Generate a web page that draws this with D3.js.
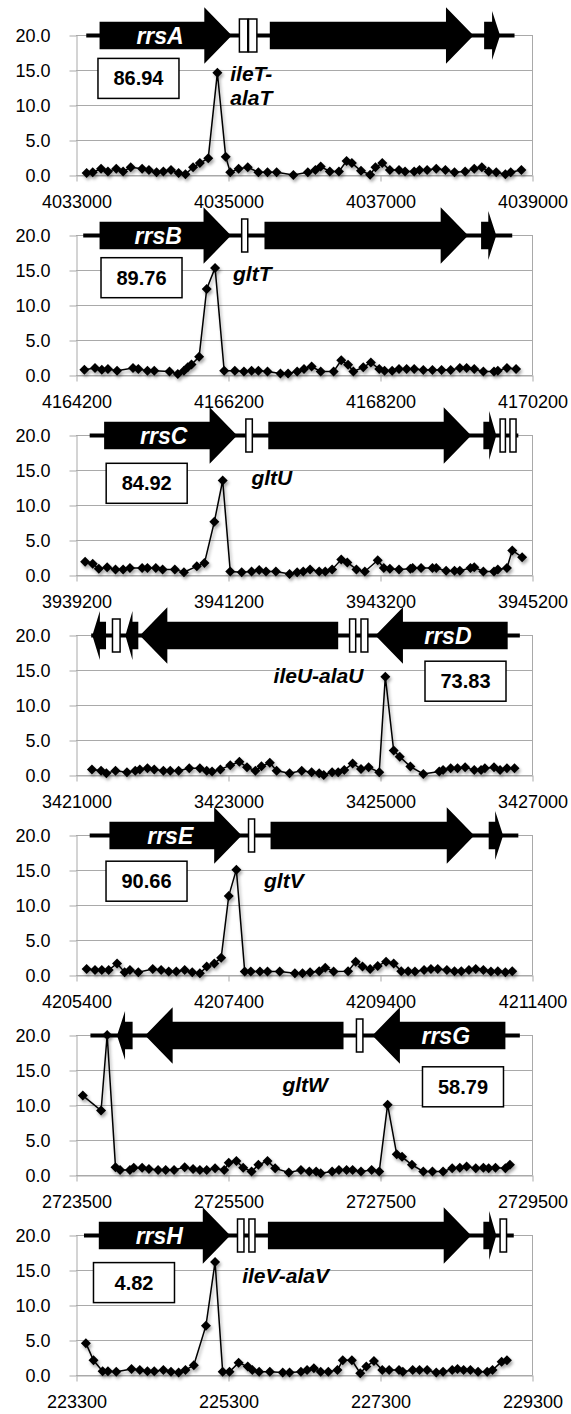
<!DOCTYPE html>
<html>
<head>
<meta charset="utf-8">
<script src="https://cdn.jsdelivr.net/npm/d3@7/dist/d3.min.js"></script>
<style>
  body { margin: 0; background: #fff; }
  text { font-family: "Liberation Sans", Arial, sans-serif; }
</style>
</head>
<body>
<script>
// windows (bp); every panel covers 6000 bp from its start
const windowStart = [4033000, 4164200, 3939200, 3421000, 4205400, 2723500, 223300];
const windowSpan = 6000;
const xTickStep = 2000;
const yTicks = [0, 5, 10, 15, 20];

// positions are bp from the window start
const rrnA_pos = [140,220,330,420,530,620,720,870,960,1060,1150,1250,1350,1440,1540,1630,1740,1860,1970,2030,2140,2260,2400,2520,2640,2860,3050,3150,3220,3340,3460,3560,3630,3750,3870,3940,4030,4130,4250,4330,4450,4520,4620,4740,4860,4980,5120,5240,5340,5430,5530,5650,5720,5860];
const rrnA_val = [0.3,0.4,0.9,0.5,0.9,0.5,1.1,0.9,0.7,0.4,0.5,0.7,0.3,0.1,1.1,1.7,2.4,14.6,2.6,0.4,0.9,1.1,0.4,0.4,0.4,0.0,0.4,0.7,1.2,0.5,0.5,2.0,1.7,0.6,0.05,1.1,1.7,0.7,0.7,0.5,0.5,0.7,0.7,0.9,0.7,0.4,0.5,0.9,1.1,0.5,0.4,0.1,0.4,0.7];

const rrnB_pos = [110,250,340,420,540,750,820,940,1030,1230,1340,1420,1470,1520,1620,1720,1830,1950,2090,2210,2310,2400,2520,2690,2790,2910,3000,3100,3220,3390,3490,3580,3650,3780,3880,3990,4060,4160,4250,4350,4450,4570,4690,4810,4930,5050,5140,5240,5360,5500,5550,5670,5790];
const rrnB_val = [0.75,1.0,0.75,0.85,0.6,1.0,0.85,0.6,0.6,0.5,0.15,0.6,1.1,1.5,2.6,12.3,15.3,0.6,0.6,0.5,0.6,0.6,0.5,0.2,0.2,0.5,0.85,1.2,0.5,0.5,2.1,1.45,0.5,1.1,1.8,0.85,0.6,0.6,0.85,0.85,0.85,0.7,0.7,0.7,0.7,1.0,1.0,0.85,0.5,0.5,0.6,1.0,0.85];

const rrnC_pos = [120,220,300,410,520,620,710,870,940,1050,1140,1300,1420,1590,1690,1820,1930,2030,2180,2310,2410,2500,2630,2810,2910,2990,3080,3200,3280,3370,3490,3570,3690,3800,3970,4050,4130,4250,4400,4430,4540,4690,4740,4870,4980,5050,5190,5240,5360,5500,5550,5670,5740,5870];
const rrnC_val = [1.9,1.6,0.9,1.1,0.8,0.8,1.0,1.0,1.0,1.0,0.8,0.8,0.4,1.25,1.7,7.6,13.5,0.5,0.4,0.5,0.7,0.5,0.5,0.15,0.4,0.5,0.8,0.5,0.5,0.8,2.2,1.8,0.8,0.5,2.1,1.0,0.9,0.8,0.9,1.0,1.0,1.0,1.0,0.6,0.6,0.6,1.0,1.1,0.5,0.5,0.8,1.0,3.5,2.55];

const rrnD_pos = [210,330,400,520,670,780,840,940,1030,1150,1240,1350,1490,1630,1720,1790,1900,2030,2150,2250,2360,2440,2550,2640,2810,2970,3100,3200,3260,3370,3450,3530,3640,3750,3850,3990,4070,4180,4260,4400,4570,4780,4830,4930,5020,5120,5240,5330,5380,5500,5580,5670,5770];
const rrnD_val = [0.8,0.6,0.25,0.6,0.4,0.6,0.8,0.95,0.8,0.6,0.6,0.6,0.95,0.95,0.6,0.5,0.8,1.4,1.9,1.1,0.6,1.25,1.75,0.6,0.25,0.6,0.4,0.25,0.0,0.4,0.4,0.7,1.65,0.85,1.1,0.4,14.05,3.5,2.6,1.2,0.15,0.5,0.7,0.95,0.95,1.1,0.7,0.7,0.95,1.1,0.7,0.95,0.95];

const rrnE_pos = [140,250,340,430,540,640,710,820,1010,1120,1220,1320,1430,1530,1630,1720,1820,1910,2010,2110,2220,2300,2420,2520,2680,2880,2980,3080,3200,3280,3390,3580,3680,3770,3870,3970,4080,4180,4280,4370,4460,4580,4670,4760,4880,4980,5070,5170,5260,5360,5460,5550,5650,5740];
const rrnE_val = [0.85,0.7,0.7,0.7,1.65,0.4,0.7,0.4,0.85,0.7,0.5,0.5,0.7,0.4,0.25,1.2,1.65,2.45,11.3,15.05,0.5,0.5,0.5,0.5,0.5,0.25,0.25,0.4,0.55,1.05,0.5,0.55,1.9,1.2,0.85,1.3,1.9,1.65,0.55,0.55,0.5,0.7,0.85,0.85,0.7,0.55,0.55,0.7,0.85,0.7,0.5,0.55,0.4,0.55];

const rrnG_pos = [90,330,410,520,580,710,760,870,960,1080,1180,1290,1430,1540,1630,1720,1830,1950,2010,2110,2200,2310,2400,2520,2620,2800,2960,3070,3160,3220,3370,3460,3560,3640,3750,3890,3990,4100,4220,4290,4420,4570,4690,4830,4950,5050,5140,5260,5360,5430,5520,5650,5710];
const rrnG_val = [11.35,9.2,20.0,1.1,0.7,0.7,1.05,1.05,0.85,0.7,0.7,0.7,1.1,0.85,0.7,0.7,0.95,0.7,1.75,2.0,1.05,0.5,1.45,2.0,0.95,0.35,0.7,0.5,0.5,0.25,0.5,0.7,0.7,0.7,0.5,0.7,0.5,10.05,2.95,2.6,1.45,0.5,0.5,0.5,0.95,1.05,1.2,0.95,1.05,0.95,1.05,0.95,1.45];

const rrnH_pos = [130,230,350,420,530,730,840,940,1030,1150,1250,1350,1440,1550,1710,1830,1930,2020,2140,2260,2320,2410,2550,2720,2810,2960,3040,3130,3220,3320,3440,3510,3630,3740,3820,3920,4030,4120,4250,4300,4430,4520,4620,4740,4830,4950,5020,5100,5190,5290,5410,5480,5600,5670];
const rrnH_val = [4.55,2.1,0.55,0.55,0.45,0.85,0.7,0.55,0.55,0.7,0.45,0.35,0.7,1.4,7.05,16.15,0.45,0.45,1.75,1.2,0.7,0.45,0.45,0.35,0.35,0.45,0.7,0.95,0.45,0.45,0.7,2.1,2.1,0.25,1.2,2.0,0.7,0.7,0.7,0.45,0.7,0.7,0.7,0.35,0.45,0.7,0.85,0.7,0.7,0.45,0.45,0.7,1.9,2.1];

// operon maps: [kind, from, to, strand] in bp from window start
const rrnA_genes = [["line",135,5770],["big",310,2050,1],["trna",2150,2260],["trna",2270,2380],["big",2550,5230,1],["small",5370,5580,1]];
const rrnB_genes = [["line",95,5740],["big",310,2040,1],["trna",2180,2260],["big",2480,5160,1],["small",5330,5530,1]];
const rrnC_genes = [["line",180,5820],["big",370,2120,1],["trna",2235,2320],["big",2530,5200,1],["small",5360,5530,1],["trna",5580,5650],["trna",5710,5790]];
const rrnD_genes = [["line",200,5840],["small",215,395,-1],["trna",480,580],["small",650,820,-1],["big",840,3450,-1],["trna",3600,3680],["trna",3750,3840],["big",3940,5680,-1]];
const rrnE_genes = [["line",180,5820],["big",440,2180,1],["trna",2270,2350],["big",2560,5240,1],["small",5430,5620,1]];
const rrnG_genes = [["line",190,5840],["small",540,745,-1],["big",910,3520,-1],["trna",3690,3775],["big",3900,5650,-1]];
const rrnH_genes = [["line",105,5760],["big",300,2030,1],["trna",2125,2210],["trna",2275,2355],["big",2525,5200,1],["small",5360,5530,1],["trna",5580,5665]];

const rrsNames = ["rrsA", "rrsB", "rrsC", "rrsD", "rrsE", "rrsG", "rrsH"];
const rrsLabelPos = [1106, 1082, 1154, 4893, 1240, 4865, 1096];
const trnaNames = [["ileT-", "alaT"], ["gltT"], ["gltU"], ["ileU-alaU"], ["gltV"], ["gltW"], ["ileV-alaV"]];
const trnaLabelPos = [[2030, 13.5], [2066, 13.4], [2308, 12.9], [2600, 13.1], [2474, 12.4], [2716, 11.9], [2187, 13.1]];
const boxValues = ["86.94", "89.76", "84.92", "73.83", "90.66", "58.79", "4.82"];
const boxPos = [[822, 13.8], [862, 13.9], [930, 13.1], [5125, 13.4], [928, 13.4], [5092, 12.6], [763, 13.2]];

const positions = [rrnA_pos, rrnB_pos, rrnC_pos, rrnD_pos, rrnE_pos, rrnG_pos, rrnH_pos];
const values = [rrnA_val, rrnB_val, rrnC_val, rrnD_val, rrnE_val, rrnG_val, rrnH_val];
const genes = [rrnA_genes, rrnB_genes, rrnC_genes, rrnD_genes, rrnE_genes, rrnG_genes, rrnH_genes];

// layout
const width = 571;
const height = 1414;
const plotLeft = 76;
const plotRight = 532;
const plotHeight = 140;
const firstZero = 175;
const panelStep = 200;
const gridColor = "#a9a9a9";

let svg = d3.select("body")
    .append("svg")
    .attr("width", width)
    .attr("height", height);

svg.append("rect").attr("width", width).attr("height", height).attr("fill", "#fff");

// soft shadow under the series, like the original
let filter = svg.append("defs").append("filter")
    .attr("id", "shadow")
    .attr("x", "-20%").attr("y", "-20%")
    .attr("width", "140%").attr("height", "140%");
filter.append("feDropShadow")
    .attr("dx", 1.5).attr("dy", 2.5)
    .attr("stdDeviation", 1.5)
    .attr("flood-color", "#000")
    .attr("flood-opacity", 0.35);

function diamond(r) {
    return "M0," + (-r) + "L" + r + ",0L0," + r + "L" + (-r) + ",0Z";
}

windowStart.forEach(function(start, i) {
    let zeroY = firstZero + i * panelStep;

    let x = d3.scaleLinear()
        .domain([start, start + windowSpan])
        .range([plotLeft, plotRight]);
    let y = d3.scaleLinear()
        .domain([0, 20])
        .range([zeroY, zeroY - plotHeight]);

    let g = svg.append("g");

    // horizontal gridlines
    g.selectAll(".grid")
        .data(yTicks)
        .enter()
        .append("line")
        .attr("x1", plotLeft)
        .attr("x2", plotRight)
        .attr("y1", function(d) { return y(d) + 0.5; })
        .attr("y2", function(d) { return y(d) + 0.5; })
        .attr("stroke", gridColor)
        .attr("stroke-width", 1);

    // right border of the plot area
    g.append("line")
        .attr("x1", plotRight + 0.5).attr("x2", plotRight + 0.5)
        .attr("y1", y(20)).attr("y2", y(0) + 0.5)
        .attr("stroke", gridColor);

    // y axis
    let yAxis = g.append("g")
        .attr("transform", "translate(" + (plotLeft + 0.5) + ",0.5)")
        .call(d3.axisLeft(y).tickValues(yTicks).tickSize(7).tickSizeOuter(0)
            .tickPadding(19).tickFormat(d3.format(".1f")));

    // x axis
    let xTicks = d3.range(start, start + windowSpan + 1, xTickStep);
    let xAxis = g.append("g")
        .attr("transform", "translate(0.5," + (zeroY + 0.5) + ")")
        .call(d3.axisBottom(x).tickValues(xTicks).tickSize(6).tickSizeOuter(0)
            .tickPadding(9).tickFormat(d3.format("d")));

    [yAxis, xAxis].forEach(function(ax) {
        ax.select(".domain").attr("stroke", gridColor);
        ax.selectAll(".tick line").attr("stroke", gridColor);
        ax.selectAll("text")
            .attr("fill", "#000")
            .style("font-size", "18px")
            .style("font-family", "'Liberation Sans', Arial, sans-serif");
    });
    xAxis.selectAll("text").attr("dy", "0.95em");

    // operon map, centred on the 20.0 line
    let c = y(20) + 0.5;
    let track = g.append("g");
    genes[i].forEach(function(gene) {
        let kind = gene[0];
        let x0 = x(start + gene[1]);
        let x1 = x(start + gene[2]);
        if (kind === "line") {
            track.append("rect")
                .attr("x", x0).attr("y", c - 2)
                .attr("width", x1 - x0).attr("height", 4)
                .attr("fill", "#000");
        } else if (kind === "trna") {
            track.append("rect")
                .attr("x", x0).attr("y", c - 16.5)
                .attr("width", x1 - x0).attr("height", 33)
                .attr("fill", "#fff")
                .attr("stroke", "#000")
                .attr("stroke-width", 1.5);
        } else {
            let big = kind === "big";
            let head = big ? 27.5 : Math.min(8, (x1 - x0) * 0.55);
            let shaft = 13.8;
            let wing = big ? 28.3 : 24.5;
            let tip, base, tail;
            if (gene[3] > 0) {
                tip = x1; base = x1 - head; tail = x0;
            } else {
                tip = x0; base = x0 + head; tail = x1;
            }
            let pts = [
                [tail, c - shaft], [base, c - shaft], [base, c - wing], [tip, c],
                [base, c + wing], [base, c + shaft], [tail, c + shaft]
            ];
            track.append("path")
                .attr("d", d3.line()(pts) + "Z")
                .attr("fill", "#000");
        }
    });

    // rrs gene name inside the 16S arrow
    track.append("text")
        .attr("x", x(start + rrsLabelPos[i]))
        .attr("y", c + 8)
        .attr("text-anchor", "middle")
        .attr("fill", "#fff")
        .style("font-size", "23px")
        .style("font-weight", "bold")
        .style("font-style", "italic")
        .text(rrsNames[i]);

    // data series
    let pts = positions[i].map(function(p, k) {
        return [start + p, values[i][k]];
    });
    let series = g.append("g").attr("filter", "url(#shadow)");
    series.append("path")
        .datum(pts)
        .attr("d", d3.line()
            .x(function(d) { return x(d[0]); })
            .y(function(d) { return y(d[1]); }))
        .attr("fill", "none")
        .attr("stroke", "#000")
        .attr("stroke-width", 1.5);
    series.selectAll(".pt")
        .data(pts)
        .enter()
        .append("path")
        .attr("d", diamond(5))
        .attr("transform", function(d) {
            return "translate(" + x(d[0]) + "," + y(d[1]) + ")";
        })
        .attr("fill", "#000");

    // tRNA gene label, one text per line
    trnaNames[i].forEach(function(s, k) {
        g.append("text")
            .attr("x", x(start + trnaLabelPos[i][0]))
            .attr("y", y(trnaLabelPos[i][1]) + k * 24)
            .attr("fill", "#000")
            .style("font-size", "21px")
            .style("font-weight", "bold")
            .style("font-style", "italic")
            .text(s);
    });

    // value box
    let bx = x(start + boxPos[i][0]);
    let by = y(boxPos[i][1]);
    g.append("rect")
        .attr("x", bx - 40.5).attr("y", by - 20)
        .attr("width", 81).attr("height", 40)
        .attr("fill", "#fff")
        .attr("stroke", "#000")
        .attr("stroke-width", 1.5);
    g.append("text")
        .attr("x", bx).attr("y", by + 7)
        .attr("text-anchor", "middle")
        .attr("fill", "#000")
        .style("font-size", "20px")
        .style("font-weight", "bold")
        .text(boxValues[i]);
});
</script>
</body>
</html>
